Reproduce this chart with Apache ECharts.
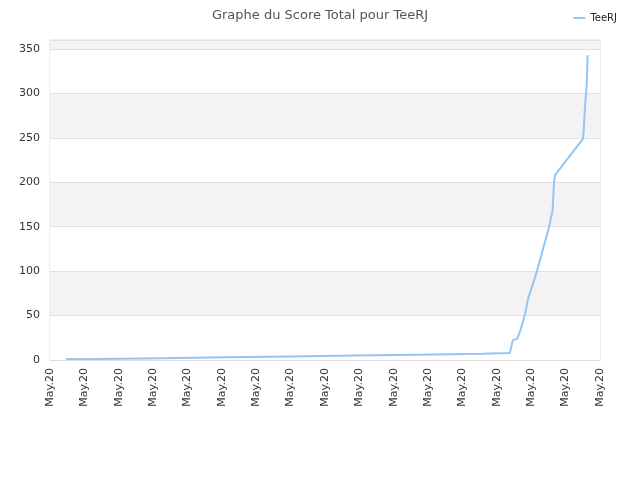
<!DOCTYPE html>
<html>
<head>
<meta charset="utf-8">
<script src="https://cdn.jsdelivr.net/npm/echarts@6/dist/echarts.min.js"></script>
<style>
  html, body { margin: 0; padding: 0; background: #fff; }
  #chart { width: 640px; height: 480px; }
</style>
</head>
<body>
<div id="chart"></div>
<script>
// x positions in axis units (one unit per tick)
const dayPos = [0.47, 1.41, 1.41, 3.26, 3.26, 5.12, 5.12, 6.98, 6.98, 8.84, 8.84,
    10.71, 10.71, 12.57, 12.57, 13.38, 13.46, 13.59, 13.69, 13.82, 13.91, 14.16,
    14.35, 14.52, 14.62, 14.66, 14.69, 15.51, 15.53, 15.56, 15.58, 15.61, 15.64]
const scores = [1, 1, 2, 2, 3, 3, 4, 4, 5, 5, 6, 6, 7, 7, 8, 8, 22, 24, 34, 52,
    69, 99, 126, 150, 168, 199, 208, 249, 261, 283, 294, 307, 343]
const tickLabel = "May.20"

let chart = echarts.init(document.getElementById("chart"))

let points = dayPos.map((x, i) => [x, scores[i]])

chart.setOption({
    animation: false,
    title: {
        text: "Graphe du Score Total pour TeeRJ",
        left: "center",
        top: 4,
        textStyle: { fontSize: 13, fontWeight: "normal", color: "#555", fontFamily: "DejaVu Sans" }
    },
    legend: {
        right: 18,
        top: 8,
        itemWidth: 12,
        itemHeight: 2,
        icon: "rect",
        textStyle: { fontSize: 10, color: "#222", fontFamily: "DejaVu Sans" },
        data: ["TeeRJ"]
    },
    grid: {
        left: 50,
        right: 40,
        top: 40,
        bottom: 120,
        show: true,
        borderColor: "#ddd",
        borderWidth: 1
    },
    xAxis: {
        type: "value",
        min: 0,
        max: 16,
        interval: 1,
        axisLine: { show: true, lineStyle: { color: "#ddd" } },
        axisTick: { show: false },
        splitLine: { show: false },
        axisLabel: {
            rotate: 90,
            color: "#333",
            fontSize: 11,
            fontFamily: "DejaVu Sans",
            margin: 8,
            formatter: () => tickLabel
        }
    },
    yAxis: {
        type: "value",
        min: 0,
        max: 360,
        interval: 50,
        axisLine: { show: false },
        axisTick: { show: false },
        axisLabel: { color: "#333", fontSize: 11, fontFamily: "DejaVu Sans", margin: 10 },
        splitLine: { show: true, lineStyle: { color: "#e0e0e0" } },
        splitArea: { show: true, areaStyle: { color: ["#ffffff", "#f3f3f3"] } }
    },
    series: [{
        name: "TeeRJ",
        type: "line",
        data: points,
        showSymbol: false,
        symbol: "none",
        lineStyle: { color: "#94c6f2", width: 2 },
        itemStyle: { color: "#94c6f2" }
    }]
})
</script>
</body>
</html>
